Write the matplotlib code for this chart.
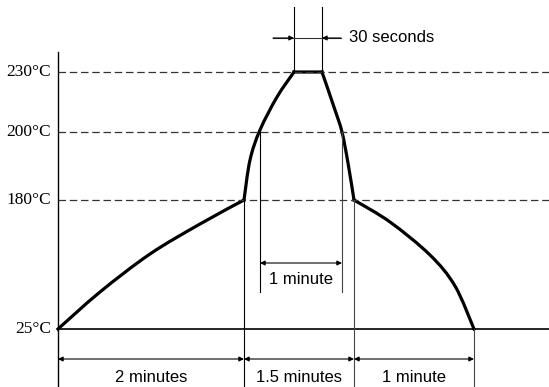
import numpy as np
import matplotlib
matplotlib.use('Agg')
import matplotlib.pyplot as plt
from matplotlib.path import Path
from matplotlib.patches import PathPatch

# schematic drawing units (not to scale), y grows downward
temp_labels = ['230°C', '200°C', '180°C', '25°C']
temp_levels = [72, 132, 200, 329]

# profile pieces (corners kept sharp between pieces)
preheat_x = [58, 100, 150, 200, 244]
preheat_y = [329, 292, 254, 224, 200]

rise_x = [244, 250, 260, 277, 294]
rise_y = [200, 160, 130, 97, 72]

peak_x = [294, 322]
peak_y = [72, 72]

fall_x = [322, 335, 342, 348, 354]
fall_y = [72, 110, 132, 163, 200]

cool_x = [354, 390, 430, 455, 474]
cool_y = [200, 222, 255, 286, 329]

# bottom time segments
seg_edges = [58, 244, 354, 474]
seg_labels = ['2 minutes', '1.5 minutes', '1 minute']

# 200C crossing interval and peak plateau
above200 = [260, 342]
plateau = [294, 322]

W, H = 549, 387
fig = plt.figure(figsize=(W / 100, H / 100), dpi=100)
ax = fig.add_axes([0, 0, 1, 1])
ax.set_xlim(0, W)
ax.set_ylim(H, 0)
ax.axis('off')

serif = 'Liberation Serif'
sans = 'Liberation Sans'
thin = 0.8


def smooth_path(xs, ys):
    # catmull-rom through the points, drawn as cubic bezier pieces
    p = np.column_stack([xs, ys]).astype(float)
    verts = [p[0]]
    codes = [Path.MOVETO]
    n = len(p)
    for i in range(n - 1):
        p0 = p[i - 1] if i > 0 else p[i]
        p3 = p[i + 2] if i + 2 < n else p[i + 1]
        c1 = p[i] + (p[i + 1] - p0) / 6
        c2 = p[i + 1] - (p3 - p[i]) / 6
        verts += [c1, c2, p[i + 1]]
        codes += [Path.CURVE4] * 3
    return Path(verts, codes)


def dim_arrow(x0, x1, y):
    ax.annotate('', xy=(x1, y), xytext=(x0, y),
                arrowprops=dict(arrowstyle='<|-|>', color='black', lw=thin,
                                mutation_scale=7, shrinkA=0, shrinkB=0))


# axis and base line
ax.plot([58, 58], [52, H], color='black', lw=1.0)
ax.plot([58, W], [temp_levels[-1], temp_levels[-1]], color='black', lw=1.2)

# dashed temperature levels
for lev in temp_levels[:-1]:
    ax.plot([58, W], [lev, lev], color='#333333', lw=0.9, ls=(0, (6, 3)))

for lab, lev in zip(temp_labels, temp_levels):
    ax.text(51, lev, lab, ha='right', va='center', fontsize=12.5, family=serif)

# extension lines for bottom dims
ax.plot([seg_edges[1]] * 2, [200, H], color='black', lw=thin)
ax.plot([seg_edges[2]] * 2, [200, H], color='#444444', lw=thin)
ax.plot([seg_edges[3]] * 2, [329, H], color='#444444', lw=thin)

for i, lab in enumerate(seg_labels):
    dim_arrow(seg_edges[i], seg_edges[i + 1], 359)
    ax.text((seg_edges[i] + seg_edges[i + 1]) / 2, 377, lab, ha='center',
            va='center', fontsize=12, family=sans)

# 1 minute above 200C
ax.plot([above200[0]] * 2, [132, 292], color='black', lw=thin)
ax.plot([above200[1]] * 2, [132, 292], color='#444444', lw=thin)
dim_arrow(above200[0], above200[1], 263)
ax.text(sum(above200) / 2, 280, '1 minute', ha='center', va='center',
        fontsize=12, family=sans)

# 30 seconds at peak
ax.plot([plateau[0]] * 2, [7, 72], color='black', lw=thin)
ax.plot([plateau[1]] * 2, [7, 72], color='black', lw=thin)
ax.plot([273, 341], [38, 38], color='#333333', lw=thin)
for xa, xb in [(273, plateau[0]), (341, plateau[1])]:
    ax.annotate('', xy=(xb, 38), xytext=(xa, 38),
                arrowprops=dict(arrowstyle='-|>', color='black', lw=thin,
                                mutation_scale=7, shrinkA=0, shrinkB=0))
ax.text(349, 38, '30 seconds', ha='left', va='center', fontsize=12, family=sans)

# profile
for xs, ys in [(preheat_x, preheat_y), (rise_x, rise_y), (peak_x, peak_y),
               (fall_x, fall_y), (cool_x, cool_y)]:
    ax.add_patch(PathPatch(smooth_path(xs, ys), facecolor='none',
                           edgecolor='black', lw=2.3, joinstyle='miter',
                           capstyle='projecting'))

fig.savefig('out.png', dpi=100, facecolor='white')
